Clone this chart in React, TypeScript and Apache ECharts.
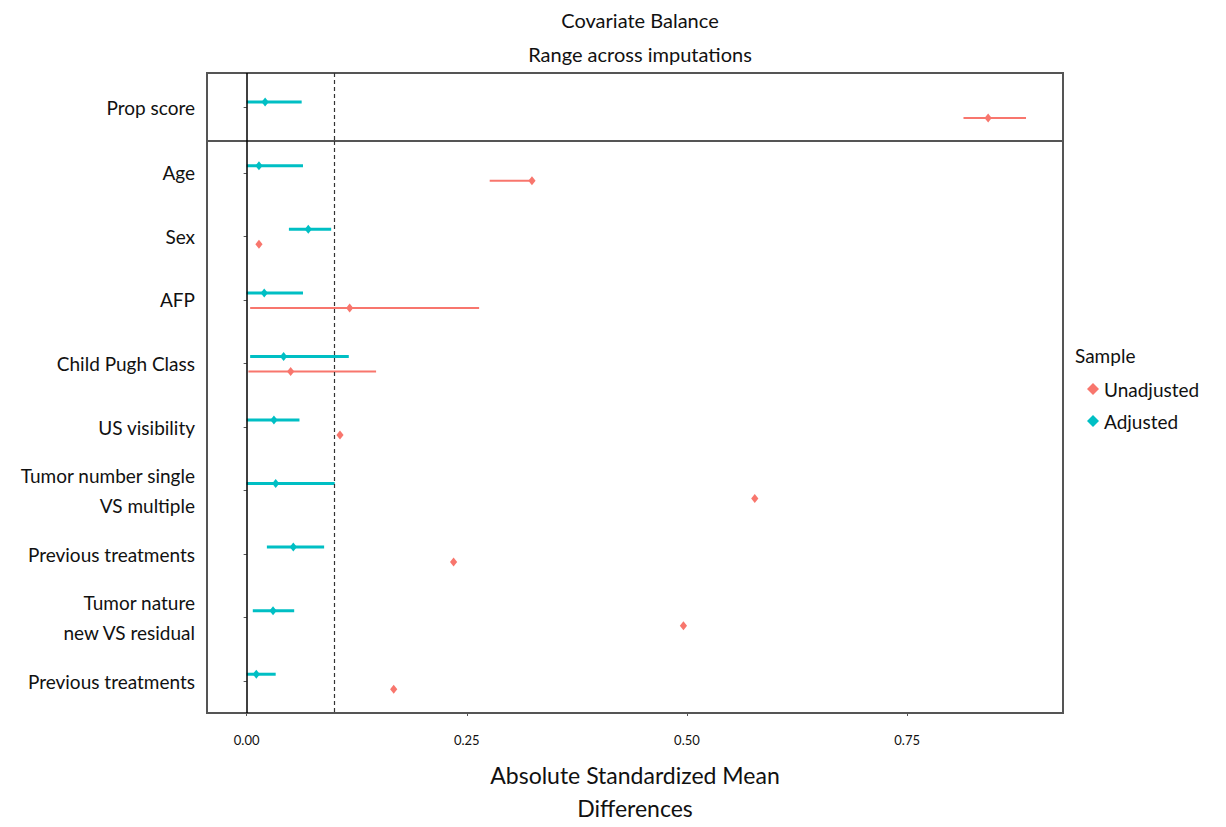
import React, { useEffect, useRef } from "react";
import * as echarts from "echarts";

const topCategories = ["Prop score"];
const categories = [
  "Age",
  "Sex",
  "AFP",
  "Child Pugh Class",
  "US visibility",
  "Tumor number single\nVS multiple",
  "Previous treatments",
  "Tumor nature\nnew VS residual",
  "Previous treatments ",
];

// Prop score panel: point, low, high
const propAdj = [0.021, 0.0, 0.0625];
const propUnadj = [0.842, 0.814, 0.885];

// Covariates panel: point, low, high
const adjPoint = [0.014, 0.07, 0.02, 0.042, 0.031, 0.033, 0.053, 0.03, 0.011];
const adjLow = [0.0, 0.048, 0.0, 0.004, 0.0, 0.0, 0.023, 0.007, 0.0];
const adjHigh = [0.064, 0.096, 0.064, 0.116, 0.06, 0.1, 0.088, 0.054, 0.033];
const unadjPoint = [0.324, 0.014, 0.117, 0.05, 0.106, 0.577, 0.235, 0.496, 0.167];
const unadjLow = [0.276, 0.014, 0.004, 0.002, 0.106, 0.577, 0.235, 0.496, 0.167];
const unadjHigh = [0.324, 0.014, 0.264, 0.147, 0.106, 0.577, 0.235, 0.496, 0.167];

const xTicks = [0, 0.25, 0.5, 0.75];
const threshold = 0.1;

const RED = "#F8766D";
const CYAN = "#00BFC4";
const FONT = "Lato, 'Open Sans', sans-serif";

function makeRender(offset: number, color: string, width: number) {
  return (params: any, api: any) => {
    const cat = api.value(0);
    const p = api.coord([api.value(1), cat]);
    const lo = api.coord([api.value(2), cat]);
    const hi = api.coord([api.value(3), cat]);
    const y = p[1] + offset;
    const s = 4.5;
    const children: any[] = [];
    if (hi[0] - lo[0] > 0.5) {
      children.push({
        type: "line",
        shape: { x1: lo[0], y1: y, x2: hi[0], y2: y },
        style: { stroke: color, lineWidth: width },
      });
    }
    children.push({
      type: "polygon",
      shape: { points: [[p[0], y - s], [p[0] + s * 0.8, y], [p[0], y + s], [p[0] - s * 0.8, y]] },
      style: { fill: color },
    });
    return { type: "group", children };
  };
}

export default function App() {
  const ref = useRef<HTMLDivElement>(null);
  useEffect(() => {
    if (!ref.current) return;
    const chart = echarts.init(ref.current, null, { renderer: "svg" });
    const xMin = -0.045;
    const xMax = 0.927;
    const gridL = 207;
    const gridW = 856;

    const xAxisBase = (gi: number, showLabels: boolean) => ({
      type: "value",
      gridIndex: gi,
      min: xMin,
      max: xMax,
      splitLine: { show: false },
      axisLine: { show: false },
      axisTick: {
        show: showLabels,
        customValues: xTicks,
        length: 3,
        lineStyle: { color: "#555" },
      },
      axisLabel: {
        show: showLabels,
        customValues: xTicks,
        formatter: (v: number) => v.toFixed(2),
        fontSize: 13,
        color: "#111",
        fontFamily: FONT,
        margin: 20,
      },
    });

    const yAxisBase = (gi: number, data: string[]) => ({
      type: "category",
      gridIndex: gi,
      data,
      inverse: true,
      axisLine: { show: false },
      axisTick: { show: true, alignWithLabel: true, length: 3, lineStyle: { color: "#555" } },
      axisLabel: {
        fontSize: 19,
        color: "#111",
        fontFamily: FONT,
        margin: 12,
        lineHeight: 30,
        formatter: (v: string) => v.trim(),
      },
      splitLine: { show: false },
    });

    const refLines = {
      silent: true,
      symbol: "none",
      label: { show: false },
      data: [
        { xAxis: 0, lineStyle: { color: "#000", type: "solid", width: 1.5 } },
        { xAxis: threshold, lineStyle: { color: "#333", type: [4, 3], width: 1.2 } },
      ],
    };

    const topAdj = [[0, propAdj[0], propAdj[1], propAdj[2]]];
    const topUnadj = [[0, propUnadj[0], propUnadj[1], propUnadj[2]]];
    const botAdj = categories.map((_, i) => [i, adjPoint[i], adjLow[i], adjHigh[i]]);
    const botUnadj = categories.map((_, i) => [i, unadjPoint[i], unadjLow[i], unadjHigh[i]]);

    const customSeries = (name: string, gi: number, data: any[], offset: number, color: string, w: number) => ({
      type: "custom",
      name,
      xAxisIndex: gi,
      yAxisIndex: gi,
      data,
      encode: { x: [1, 2, 3], y: 0 },
      itemStyle: { color },
      renderItem: makeRender(offset, color, w),
      clip: false,
      z: name === "Adjusted" ? 3 : 2,
    });

    const gridBase = {
      left: gridL,
      width: gridW,
      show: true,
      borderColor: "#555",
      borderWidth: 2,
      backgroundColor: "transparent",
      containLabel: false,
      outerBoundsMode: "none",
    };

    chart.setOption({
      animation: false,
      backgroundColor: "#fff",
      textStyle: { fontFamily: FONT },
      title: {
        text: "Covariate Balance\nRange across imputations",
        left: gridL + gridW / 2,
        textAlign: "center",
        top: -2,
        textStyle: { fontSize: 20, fontWeight: "normal", color: "#111", lineHeight: 34, fontFamily: FONT },
      },
      legend: {
        orient: "vertical",
        left: 1082,
        top: 373,
        data: ["Unadjusted", "Adjusted"],
        icon: "diamond",
        itemWidth: 12,
        itemHeight: 12,
        itemGap: 10,
        textStyle: { fontSize: 19, color: "#111", fontFamily: FONT, lineHeight: 22 },
      },
      graphic: [
        {
          type: "text",
          left: 1075,
          top: 346,
          style: { text: "Sample", fontSize: 19, fill: "#111", fontFamily: FONT },
        },
      ],
      grid: [
        { ...gridBase, top: 73, height: 68 },
        { ...gridBase, top: 141, height: 572 },
      ],
      xAxis: [
        xAxisBase(0, false),
        {
          ...xAxisBase(1, true),
          name: "Absolute Standardized Mean\nDifferences",
          nameLocation: "middle",
          nameGap: 45,
          nameTextStyle: { fontSize: 23, color: "#111", fontFamily: FONT, lineHeight: 33, verticalAlign: "top" },
        },
      ],
      yAxis: [yAxisBase(0, topCategories), yAxisBase(1, categories)],
      series: [
        { type: "line", xAxisIndex: 0, yAxisIndex: 0, data: [], markLine: refLines },
        { type: "line", xAxisIndex: 1, yAxisIndex: 1, data: [], markLine: refLines },
        customSeries("Unadjusted", 0, topUnadj, 11, RED, 2),
        customSeries("Adjusted", 0, topAdj, -5, CYAN, 3),
        customSeries("Unadjusted", 1, botUnadj, 8, RED, 2),
        customSeries("Adjusted", 1, botAdj, -7, CYAN, 3),
      ],
    });
    return () => chart.dispose();
  }, []);
  return (
    <div
      ref={ref}
      style={{ position: "absolute", left: 0, top: 0, width: 1226, height: 827 }}
    />
  );
}
